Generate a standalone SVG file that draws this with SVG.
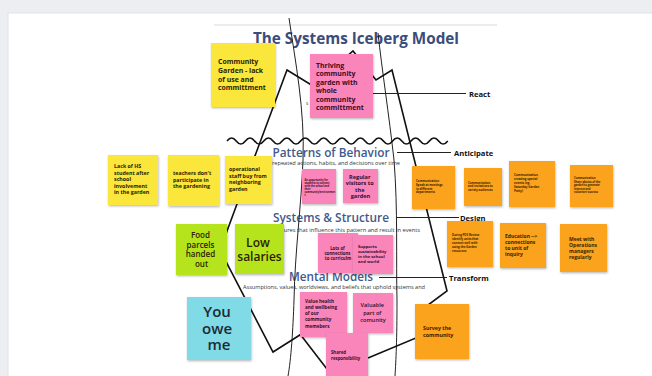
<svg xmlns="http://www.w3.org/2000/svg" width="652" height="376" viewBox="0 0 652 376">
  <defs>
    <filter id="sh" x="-10%" y="-10%" width="130%" height="130%">
      <feDropShadow dx="0.6" dy="1.2" stdDeviation="0.9" flood-color="#000" flood-opacity="0.28"/>
    </filter>
  </defs>
  <style>
    .y{fill:#fbe63a}
    .p{fill:#f985ba}
    .o{fill:#fba31b}
    .g{fill:#b6e41f}
    .c{fill:#80dbe7}
    .st{filter:url(#sh)}
    .t{font-family:"Open Sans","Liberation Sans",sans-serif;font-weight:700;fill:#2b2200}
    .tp{font-family:"Open Sans","Liberation Sans",sans-serif;font-weight:700;fill:#3a0d22}
    .to{font-family:"Open Sans","Liberation Sans",sans-serif;font-weight:700;fill:#3b2200}
    .h{font-family:"Open Sans","Liberation Sans",sans-serif;font-weight:600;fill:#42598c}
    .sub{font-family:"Open Sans","Liberation Sans",sans-serif;font-weight:400;fill:#333;font-size:4.6px}
    .lbl{font-family:"Open Sans","Liberation Sans",sans-serif;font-weight:700;fill:#111;font-size:7.6px}
    .edge{fill:none;stroke:#111;stroke-width:1.6;stroke-linejoin:miter}
    .thin{fill:none;stroke:#222;stroke-width:1}
    .rule{fill:none;stroke:#222;stroke-width:1}
  </style>

  <!-- board background -->
  <rect x="0" y="0" width="652" height="376" fill="#eceef1"/>
  <rect x="8" y="13" width="660" height="380" fill="#ffffff" stroke="#dfe2e6" stroke-width="1"/>
  <line x1="214" y1="25" x2="497" y2="25" stroke="#ececec" stroke-width="2"/>

  <!-- title and level headings -->
  <g id="title">
    <text class="h" x="356" y="44" font-size="16" text-anchor="middle" textLength="206" lengthAdjust="spacingAndGlyphs" style="fill:#3b4c7b;font-weight:700">The Systems Iceberg Model</text>
  </g>
  <g id="headings">
    <text class="h" x="331" y="157" font-size="12" text-anchor="middle" textLength="117" lengthAdjust="spacingAndGlyphs">Patterns of Behavior</text>
    <text class="sub" x="336" y="164.5" text-anchor="middle" textLength="128" lengthAdjust="spacingAndGlyphs">repeated actions, habits, and decisions over time</text>
    <text class="h" x="331" y="222" font-size="12" text-anchor="middle" textLength="116" lengthAdjust="spacingAndGlyphs">Systems &amp; Structure</text>
    <text class="sub" x="344" y="231.5" text-anchor="middle" textLength="152" lengthAdjust="spacingAndGlyphs">Structures that influence this pattern and result in events</text>
    <text class="h" x="331" y="281" font-size="12" text-anchor="middle" textLength="84" lengthAdjust="spacingAndGlyphs">Mental Models</text>
    <text class="sub" x="334" y="288.5" text-anchor="middle" textLength="182" lengthAdjust="spacingAndGlyphs">Assumptions, values, worldviews, and beliefs that uphold systems and</text>
    <text class="sub" x="306" y="105" font-size="4.6">s</text>
  </g>

  <!-- iceberg outline, waterline and guide lines -->
  <g id="connectors">
    <path class="thin" d="M289,18 C295,60 305,110 303,160 C301,210 295,250 294,300 C293,330 291,360 288,376"/>
    <path class="thin" d="M378,33 C382,70 389,115 394,160 C398,210 396,260 397,300 C397,340 396,360 395,376"/>
    <path class="edge" d="M303,333 L273,352 L220,250 L237,204 L287,70 L313,86 L353,51 L376,80 L392,70 L447,291 L428,305 L416,338 L368,358"/>
    <path class="edge" d="M300,334 L330,373"/>
    <path class="edge" stroke-width="1.8" d="M227,141 q4.6,-6 9.2,0 t9.2,0 t9.2,0 t9.2,0 t9.2,0 t9.2,0 t9.2,0 t9.2,0 t9.2,0 t9.2,0 t9.2,0 t9.2,0 t9.2,0 t9.2,0 t9.2,0 t9.2,0 t9.2,0 t9.2,0 t9.2,0 t9.2,0 t9.2,0 t9.2,0 t9.2,0 t9.2,0"/>
    <line class="rule" x1="373" y1="93.5" x2="466" y2="93.5"/>
    <line class="rule" x1="397" y1="152.5" x2="451" y2="152.5"/>
    <line class="rule" x1="397" y1="217.5" x2="459" y2="217.5"/>
    <line class="rule" x1="379" y1="277.5" x2="447" y2="277.5"/>
  </g>

  <g id="react"><text class="lbl" x="469" y="96.5">React</text></g>
  <g id="anticipate"><text class="lbl" x="454" y="155.5">Anticipate</text></g>
  <g id="design"><text class="lbl" x="460" y="220.5">Design</text></g>
  <g id="transform"><text class="lbl" x="449" y="280.5">Transform</text></g>

  <!-- events -->
  <g id="community-garden-lack">
    <rect class="y st" x="211" y="43" width="64" height="64"/>
    <text class="t" font-size="6.9" x="218">
      <tspan x="218" y="64">Community</tspan>
      <tspan x="218" y="72.8">Garden - lack</tspan>
      <tspan x="218" y="81.6">of use and</tspan>
      <tspan x="218" y="90.4">committment</tspan>
    </text>
  </g>
  <g id="thriving-garden">
    <rect class="p st" x="310" y="54" width="63" height="64"/>
    <text class="tp" font-size="6.9">
      <tspan x="316" y="67.5">Thriving</tspan>
      <tspan x="316" y="76">community</tspan>
      <tspan x="316" y="84.5">garden with</tspan>
      <tspan x="316" y="93">whole</tspan>
      <tspan x="316" y="101.5">community</tspan>
      <tspan x="316" y="110">committment</tspan>
    </text>
  </g>

  <!-- patterns of behaviour -->
  <g id="lack-hs-students">
    <rect class="y st" x="108" y="155" width="50" height="50"/>
    <text class="t" font-size="5.3">
      <tspan x="114" y="168">Lack of HS</tspan>
      <tspan x="114" y="174.6">student after</tspan>
      <tspan x="114" y="181.2">school</tspan>
      <tspan x="114" y="187.8">involvement</tspan>
      <tspan x="114" y="194.4">in the garden</tspan>
    </text>
  </g>
  <g id="teachers-dont-participate">
    <rect class="y st" x="168" y="155" width="51" height="51"/>
    <text class="t" font-size="5.3">
      <tspan x="173" y="175">teachers don't</tspan>
      <tspan x="173" y="181.6">participate in</tspan>
      <tspan x="173" y="188.2">the gardening</tspan>
    </text>
  </g>
  <g id="operational-staff">
    <rect class="y st" x="225" y="156" width="47" height="48"/>
    <text class="t" font-size="5.3">
      <tspan x="229" y="171">operational</tspan>
      <tspan x="229" y="177.6">staff buy from</tspan>
      <tspan x="229" y="184.2">neighboring</tspan>
      <tspan x="229" y="190.8">garden</tspan>
    </text>
  </g>
  <g id="student-opportunity">
    <rect class="p st" x="302" y="169" width="34" height="35"/>
    <text class="tp" font-size="2.5">
      <tspan x="304.5" y="181">An opportunity for</tspan>
      <tspan x="304.5" y="184">students to connect</tspan>
      <tspan x="304.5" y="187">with the school and</tspan>
      <tspan x="304.5" y="190">their</tspan>
      <tspan x="304.5" y="193">community/environmen</tspan>
      <tspan x="304.5" y="196">t</tspan>
    </text>
  </g>
  <g id="regular-visitors">
    <rect class="p st" x="343" y="169" width="35" height="34"/>
    <text class="tp" font-size="5.6" text-anchor="middle">
      <tspan x="360.5" y="178.5">Regular</tspan>
      <tspan x="360.5" y="185">visitors to</tspan>
      <tspan x="360.5" y="191.5">the</tspan>
      <tspan x="360.5" y="198">garden</tspan>
    </text>
  </g>
  <g id="comm-meetings">
    <rect class="o st" x="412" y="166" width="43" height="43"/>
    <text class="to" font-size="2.9">
      <tspan x="416" y="182">Communication</tspan>
      <tspan x="416" y="186">Speak at meetings</tspan>
      <tspan x="416" y="189.5">in different</tspan>
      <tspan x="416" y="193">departments</tspan>
    </text>
  </g>
  <g id="comm-invitations">
    <rect class="o st" x="464" y="168" width="38" height="38"/>
    <text class="to" font-size="2.8">
      <tspan x="468" y="183.5">Communication</tspan>
      <tspan x="468" y="187">and invitations to</tspan>
      <tspan x="468" y="190.5">variety audiences</tspan>
    </text>
  </g>
  <g id="comm-special-events">
    <rect class="o st" x="509" y="161" width="46" height="46"/>
    <text class="to" font-size="3">
      <tspan x="514" y="176">Communication</tspan>
      <tspan x="514" y="180">creating special</tspan>
      <tspan x="514" y="184">events (eg.</tspan>
      <tspan x="514" y="188">Saturday Garden</tspan>
      <tspan x="514" y="192">Party)</tspan>
    </text>
  </g>
  <g id="comm-share-photos">
    <rect class="o st" x="570" y="165" width="43" height="42"/>
    <text class="to" font-size="2.7">
      <tspan x="574" y="179">Communication</tspan>
      <tspan x="574" y="182.5">Share photos of the</tspan>
      <tspan x="574" y="186">garden to generate</tspan>
      <tspan x="574" y="189.5">interest and</tspan>
      <tspan x="574" y="193">volunteer success</tspan>
    </text>
  </g>

  <!-- systems and structure -->
  <g id="food-parcels">
    <rect class="g st" x="176" y="224" width="51" height="51"/>
    <text class="t" font-size="8" text-anchor="middle" style="font-weight:600">
      <tspan x="201.5" y="238">Food</tspan>
      <tspan x="201.5" y="247.5">parcels</tspan>
      <tspan x="201.5" y="257">handed</tspan>
      <tspan x="201.5" y="266.5">out</tspan>
    </text>
  </g>
  <g id="low-salaries">
    <rect class="g st" x="235" y="224" width="49" height="50"/>
    <text class="t" font-size="12" text-anchor="middle" style="font-weight:600">
      <tspan x="259.5" y="247">Low</tspan>
      <tspan x="259.5" y="261">salaries</tspan>
    </text>
  </g>
  <g id="lots-of-connections">
    <rect class="p st" x="318" y="233" width="40" height="40"/>
    <text class="tp" font-size="4.3" text-anchor="middle">
      <tspan x="338" y="250">Lots of</tspan>
      <tspan x="338" y="255">connections</tspan>
      <tspan x="338" y="260">to curriculm</tspan>
    </text>
  </g>
  <g id="supports-sustainability">
    <rect class="p st" x="353" y="235" width="40" height="39"/>
    <text class="tp" font-size="4.2">
      <tspan x="358" y="248">Supports</tspan>
      <tspan x="358" y="253">sustainability</tspan>
      <tspan x="358" y="258">in the school</tspan>
      <tspan x="358" y="263">and world</tspan>
    </text>
  </g>
  <g id="pd3-review">
    <rect class="o st" x="447" y="221" width="46" height="46"/>
    <text class="to" font-size="2.9">
      <tspan x="452" y="236">During PD3 Review</tspan>
      <tspan x="452" y="240">identify units that</tspan>
      <tspan x="452" y="244">connect well with</tspan>
      <tspan x="452" y="248">using the Garden</tspan>
      <tspan x="452" y="252">resources.</tspan>
    </text>
  </g>
  <g id="education-connections">
    <rect class="o st" x="500" y="223" width="46" height="45"/>
    <text class="to" font-size="5">
      <tspan x="505" y="237.5">Education --&gt;</tspan>
      <tspan x="505" y="243.5">connections</tspan>
      <tspan x="505" y="249.5">to unit of</tspan>
      <tspan x="505" y="255.5">inquiry</tspan>
    </text>
  </g>
  <g id="meet-operations">
    <rect class="o st" x="560" y="224" width="47" height="48"/>
    <text class="to" font-size="5">
      <tspan x="569" y="240.5">Meet with</tspan>
      <tspan x="569" y="246.5">Operations</tspan>
      <tspan x="569" y="252.5">managers</tspan>
      <tspan x="569" y="258.5">regularly</tspan>
    </text>
  </g>

  <!-- mental models -->
  <g id="you-owe-me">
    <rect class="c st" x="187" y="297" width="64" height="63"/>
    <text class="t" font-size="15" text-anchor="middle" style="fill:#1d2a33;font-weight:600">
      <tspan x="219" y="317">You</tspan>
      <tspan x="219" y="333.5">owe</tspan>
      <tspan x="219" y="350">me</tspan>
    </text>
  </g>
  <g id="value-health">
    <rect class="p st" x="300" y="292" width="47" height="45"/>
    <text class="tp" font-size="4.6">
      <tspan x="305" y="303">Value health</tspan>
      <tspan x="305" y="309">and wellbeing</tspan>
      <tspan x="305" y="315.2">of our</tspan>
      <tspan x="305" y="321.4">community</tspan>
      <tspan x="305" y="327.6">memebers</tspan>
    </text>
  </g>
  <g id="valuable-part">
    <rect class="p st" x="353" y="293" width="40" height="40"/>
    <text class="tp" font-size="5.6" text-anchor="middle" style="font-weight:600">
      <tspan x="373" y="307">Valuable</tspan>
      <tspan x="373" y="314.5">part of</tspan>
      <tspan x="373" y="322">comunity</tspan>
    </text>
  </g>
  <g id="shared-responsibility">
    <rect class="p st" x="326" y="333" width="42" height="48"/>
    <text class="tp" font-size="4.3">
      <tspan x="331" y="354">Shared</tspan>
      <tspan x="331" y="359.5">responsibility</tspan>
    </text>
  </g>
  <g id="survey-community">
    <rect class="o st" x="415" y="304" width="54" height="55"/>
    <text class="to" font-size="5.3">
      <tspan x="423" y="329.5">Survey the</tspan>
      <tspan x="423" y="337">community</tspan>
    </text>
  </g>
</svg>
